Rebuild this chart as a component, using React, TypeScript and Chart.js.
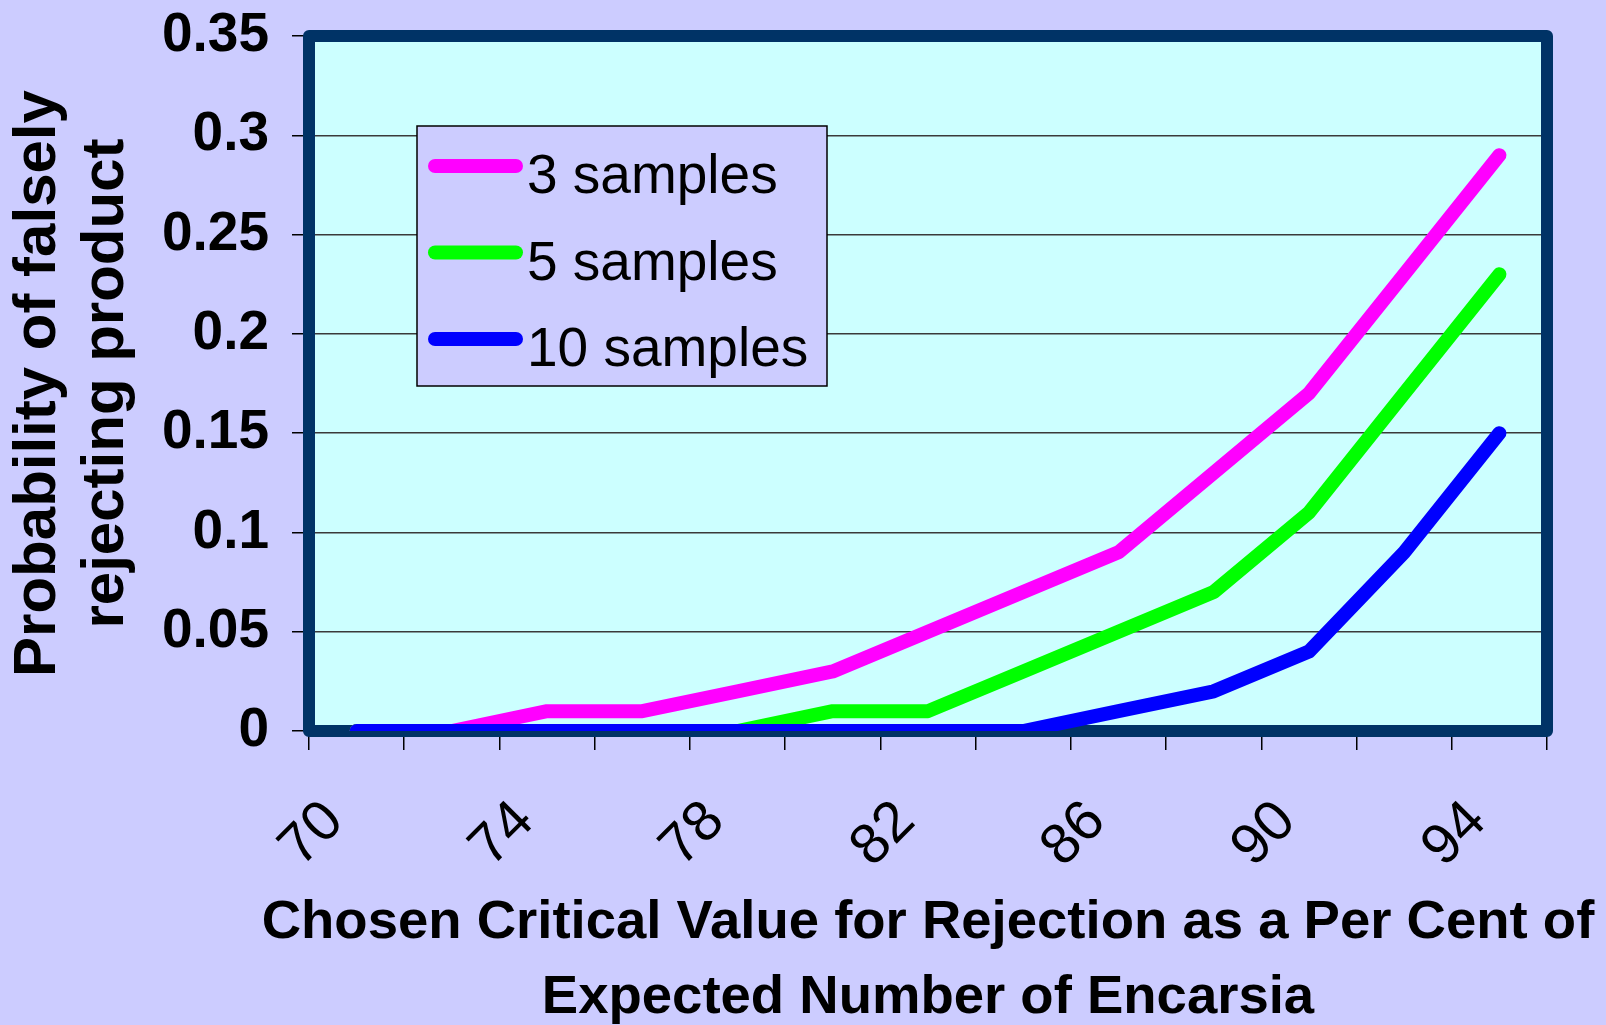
import React, { useEffect, useRef } from 'react';
import { Chart, registerables } from 'chart.js';

Chart.register(...registerables);

const categories = ['70', '72', '74', '76', '78', '80', '82', '84', '86', '88', '90', '92', '94'];
const xTickLabels = ['70', '', '74', '', '78', '', '82', '', '86', '', '90', '', '94'];
const threeSamples = [0, 0, 0.01, 0.01, 0.02, 0.03, 0.05, 0.07, 0.09, 0.13, 0.17, 0.23, 0.29];
const fiveSamples = [0, 0, 0, 0, 0, 0.01, 0.01, 0.03, 0.05, 0.07, 0.11, 0.17, 0.23];
const tenSamples = [0, 0, 0, 0, 0, 0, 0, 0, 0.01, 0.02, 0.04, 0.09, 0.15];
const seriesLabels = ['3 samples', '5 samples', '10 samples'];
const seriesColors = ['#FF00FF', '#00FF00', '#0000FF'];
const yTitleLines = ['Probability of falsely', 'rejecting product'];
const xTitleLines = ['Chosen Critical Value for Rejection as a Per Cent of', 'Expected Number of Encarsia'];

const FONT = "'Liberation Sans', Arial, Helvetica, sans-serif";

const framePlugin = {
  id: 'frame',
  beforeDraw(chart: any) {
    const { ctx, chartArea: a, width, height } = chart;
    ctx.save();
    ctx.fillStyle = '#CCCCFF';
    ctx.fillRect(0, 0, width, height);
    ctx.fillStyle = '#CCFFFF';
    ctx.fillRect(a.left, a.top, a.right - a.left, a.bottom - a.top);
    ctx.restore();
  },
  beforeDatasetsDraw(chart: any) {
    const { ctx, chartArea: a } = chart;
    ctx.save();
    ctx.strokeStyle = '#003366';
    ctx.lineWidth = 12;
    ctx.lineJoin = 'round';
    ctx.strokeRect(a.left, a.top, a.right - a.left, a.bottom - a.top);
    ctx.restore();
  },
  afterDatasetsDraw(chart: any) {
    const { ctx, chartArea: a } = chart;
    ctx.save();
    // legend
    const bx = a.left + 108;
    const by = a.top + 90;
    const bw = 410;
    const bh = 260;
    ctx.fillStyle = '#CCCCFF';
    ctx.fillRect(bx, by, bw, bh);
    ctx.strokeStyle = '#000000';
    ctx.lineWidth = 1.5;
    ctx.strokeRect(bx, by, bw, bh);
    ctx.font = `55px ${FONT}`;
    ctx.textBaseline = 'alphabetic';
    ctx.textAlign = 'left';
    chart.data.datasets.forEach((ds: any, i: number) => {
      const cy = by + 40 + i * 86.5;
      ctx.strokeStyle = ds.borderColor;
      ctx.lineWidth = 14;
      ctx.lineCap = 'round';
      ctx.beginPath();
      ctx.moveTo(bx + 18, cy);
      ctx.lineTo(bx + 99, cy);
      ctx.stroke();
      ctx.fillStyle = '#000000';
      ctx.fillText(ds.label, bx + 110, cy + 27);
    });
    // x axis title
    ctx.font = `bold 54.5px ${FONT}`;
    ctx.textAlign = 'center';
    ctx.fillStyle = '#000000';
    const cx = (a.left + a.right) / 2;
    xTitleLines.forEach((t, i) => {
      ctx.fillText(t, cx, a.bottom + 207 + i * 75);
    });
    ctx.restore();
  },
};

export default function App() {
  const ref = useRef<HTMLCanvasElement>(null);
  useEffect(() => {
    if (!ref.current) return;
    const chart = new Chart(ref.current, {
      type: 'line',
      data: {
        labels: categories,
        datasets: [
          { label: seriesLabels[0], data: threeSamples, borderColor: seriesColors[0], order: 2 },
          { label: seriesLabels[1], data: fiveSamples, borderColor: seriesColors[1], order: 1 },
          { label: seriesLabels[2], data: tenSamples, borderColor: seriesColors[2], order: 0 },
        ].map((d) => ({
          ...d,
          backgroundColor: d.borderColor,
          borderWidth: 14,
          pointRadius: 0,
          pointHoverRadius: 0,
          borderCapStyle: 'round' as const,
          borderJoinStyle: 'round' as const,
          tension: 0,
          fill: false,
        })),
      },
      options: {
        responsive: false,
        animation: false,
        devicePixelRatio: 1,
        layout: { padding: { left: 0, right: 59, top: 36, bottom: 0 } },
        plugins: { legend: { display: false }, tooltip: { enabled: false }, title: { display: false } },
        events: [],
        scales: {
          x: {
            type: 'category',
            offset: true,
            grid: {
              display: true,
              offset: true,
              drawOnChartArea: false,
              drawTicks: true,
              tickLength: 19,
              color: '#000000',
              lineWidth: 1.5,
            },
            border: { display: false },
            ticks: {
              autoSkip: false,
              minRotation: 45,
              maxRotation: 45,
              padding: 38,
              labelOffset: -22,
              color: '#000000',
              font: { family: FONT, size: 57 },
              callback: (_v: any, i: number) => xTickLabels[i],
            },
            title: { display: false },
            afterFit: (s: any) => {
              s.height = 294;
              s.paddingLeft = 0;
              s.paddingRight = 0;
            },
          },
          y: {
            type: 'linear',
            min: 0,
            max: 0.35,
            grid: {
              color: '#3a3a3a',
              lineWidth: 1.5,
              tickLength: 17,
              tickColor: '#000000',
              drawOnChartArea: true,
            },
            border: { display: false },
            ticks: {
              stepSize: 0.05,
              padding: 23,
              color: '#000000',
              font: { family: FONT, size: 55, weight: 'bold' },
              callback: (v: any) => String(parseFloat(Number(v).toFixed(2))),
            },
            title: {
              display: true,
              text: yTitleLines,
              color: '#000000',
              font: { family: FONT, size: 60, weight: 'bold', lineHeight: 1.13 },
              padding: { top: 5, bottom: 0 },
            },
            afterFit: (s: any) => {
              s.width = 309;
              s.paddingTop = 0;
              s.paddingBottom = 0;
            },
          },
        },
      },
      plugins: [framePlugin],
    } as any);
    return () => chart.destroy();
  }, []);
  return (
    <div style={{ position: 'fixed', left: 0, top: 0, width: 1606, height: 1025, background: '#CCCCFF' }}>
      <canvas ref={ref} width={1606} height={1025} style={{ display: 'block', width: 1606, height: 1025 }} />
    </div>
  );
}
